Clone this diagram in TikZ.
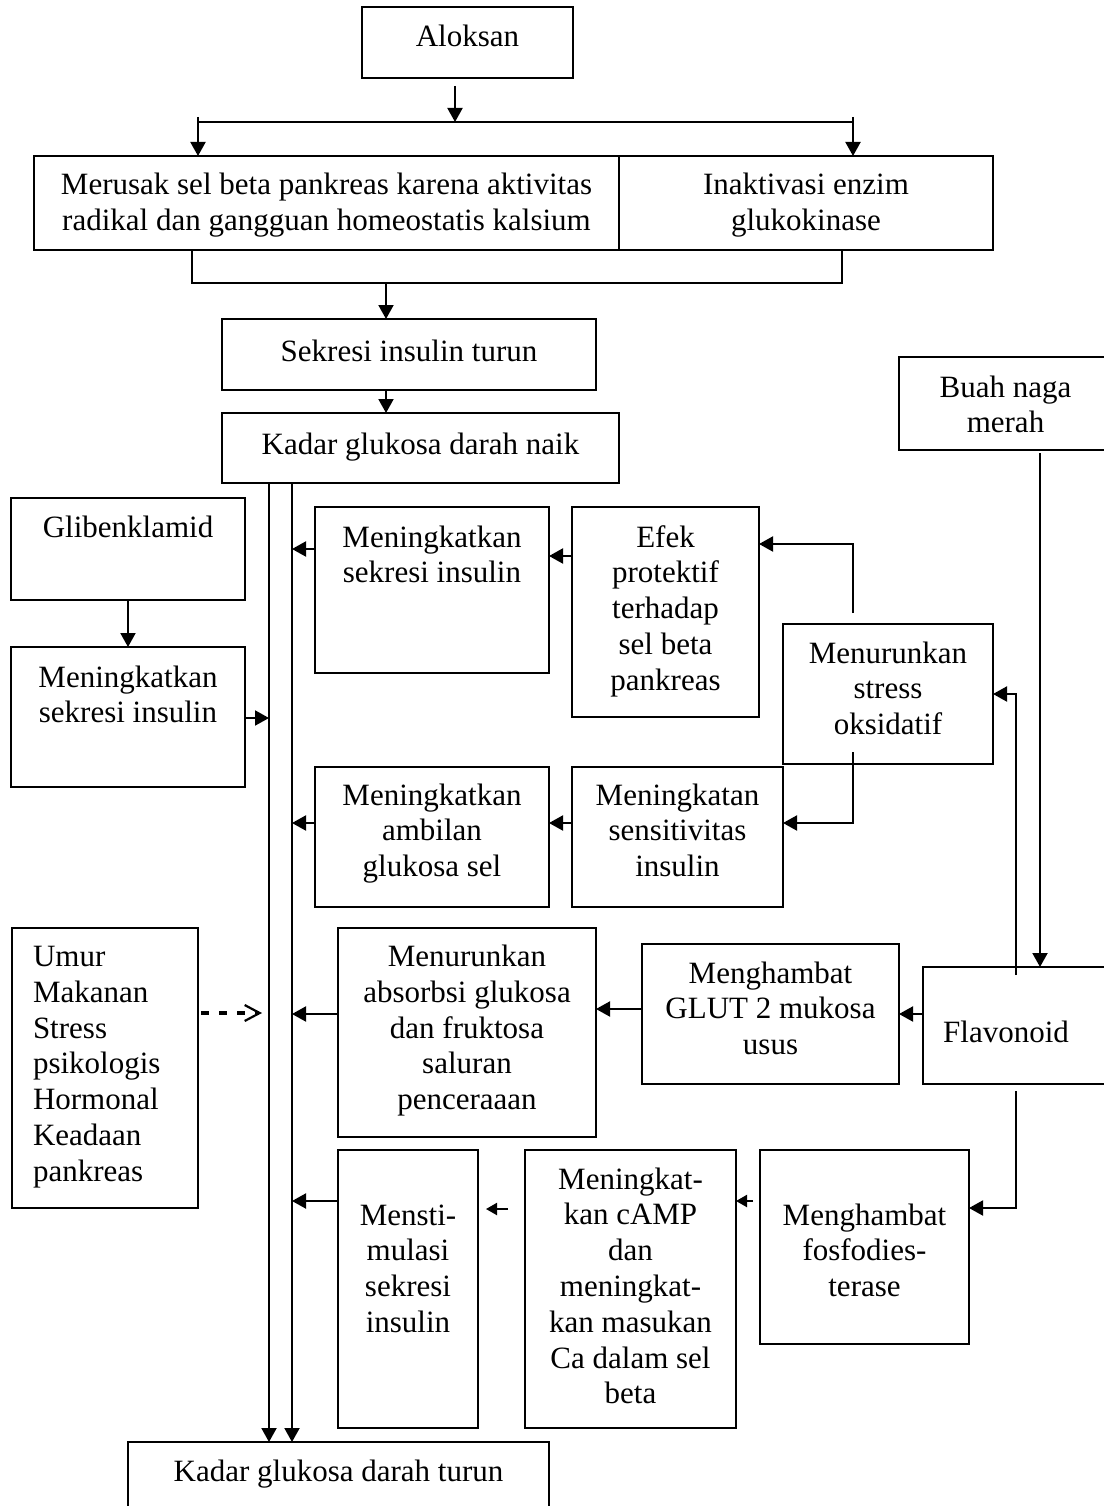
\documentclass[tikz,border=0pt]{standalone}
\usepackage{fontspec}
\setmainfont{Liberation Serif}
\usetikzlibrary{arrows.meta}
\tikzset{
  box/.style={draw, line width=2pt, inner sep=0pt, outer sep=0pt},
  txt/.style={anchor=north, inner sep=0pt, outer sep=0pt, align=center, font=\fontsize{31}{35.8}\selectfont},
  ln/.style={line width=2pt},
  arr/.style={line width=2pt, -{Triangle[length=14pt,width=15pt]}},
  sarr/.style={line width=2pt, -{Triangle[length=11pt,width=12pt]}},
  dasharr/.style={line width=4pt, dash pattern=on 7.5pt off 10.5pt, -{Straight Barb[length=15pt,width=16pt,line width=2.2pt]}},
}
% box: name, left, top, right, bottom (pixels, y downwards)
\newcommand\bx[5]{\node[box, minimum width={(#4-#2)*1pt}, minimum height={(#5-#3)*1pt}] (#1) at ({(#2+#4)/2},{(#3+#5)/2}) {};}
% text: name, centre x, first baseline y, text
\newcommand\tx[4]{\node[txt] (#1) at (#2,{#3-24}) {\rule{0pt}{24pt}#4};}
\begin{document}
\begin{tikzpicture}[x=1pt,y=-1pt]
\useasboundingbox (0,0) rectangle (1103,1506);
\fill[white] (0,0) rectangle (1103,1506);

% ---------- boxes ----------
\bx{alok}{362}{7}{573}{78}
\bx{merusak}{34}{156}{619}{250}
\bx{inak}{619}{156}{993}{250}
\bx{sekresi}{222}{319}{596}{390}
\bx{naik}{222}{413}{619}{483}
\bx{buah}{899}{357}{1112}{450}
\bx{gliben}{11}{498}{245}{600}
\bx{lmen}{11}{647}{245}{787}
\bx{msek}{315}{507}{549}{673}
\bx{efek}{572}{507}{759}{717}
\bx{stress}{783}{624}{993}{764}
\bx{amb}{315}{767}{549}{907}
\bx{sens}{572}{767}{783}{907}
\bx{umur}{12}{928}{198}{1208}
\bx{abs}{338}{928}{596}{1137}
\bx{glut}{642}{944}{899}{1084}
\bx{flav}{923}{967}{1112}{1084}
\bx{stim}{338}{1150}{478}{1428}
\bx{camp}{525}{1150}{736}{1428}
\bx{fosf}{760}{1150}{969}{1344}
\bx{turun}{128}{1442}{549}{1512}

% ---------- texts ----------
\tx{talok}{467.5}{47}{Aloksan}
\tx{tmerusak}{326.5}{195}{Merusak sel beta pankreas karena aktivitas\\radikal dan gangguan homeostatis kalsium}
\tx{tinak}{806}{195}{Inaktivasi enzim\\glukokinase}
\tx{tsekresi}{409}{361}{Sekresi insulin turun}
\tx{tnaik}{420.5}{454}{Kadar glukosa darah naik}
\tx{tbuah}{1005.5}{397}{Buah naga\\merah}
\tx{tgliben}{128}{537}{Glibenklamid}
\tx{tlmen}{128}{687}{Meningkatkan\\sekresi insulin}
\tx{tmsek}{432}{547}{Meningkatkan\\sekresi insulin}
\tx{tefek}{665.5}{547}{Efek\\protektif\\terhadap\\sel beta\\pankreas}
\tx{tstress}{888}{663}{Menurunkan\\stress\\oksidatif}
\tx{tamb}{432}{805}{Meningkatkan\\ambilan\\glukosa sel}
\tx{tsens}{677.5}{805}{Meningkatan\\sensitivitas\\insulin}
\node[txt, anchor=north west, align=left] (tumur) at (33,{966.5-24}) {\rule{0pt}{24pt}Umur\\Makanan\\Stress\\psikologis\\Hormonal\\Keadaan\\pankreas};
\tx{tabs}{467}{966.5}{Menurunkan\\absorbsi glukosa\\dan fruktosa\\saluran\\penceraaan}
\tx{tglut}{770.5}{983}{Menghambat\\GLUT 2 mukosa\\usus}
\tx{tflav}{1006}{1042}{Flavonoid}
\tx{tfosf}{864.5}{1225}{Menghambat\\fosfodies-\\terase}
\tx{tcamp}{630.5}{1189}{Meningkat-\\kan cAMP\\dan\\meningkat-\\kan masukan\\Ca dalam sel\\beta}
\tx{tstim}{408}{1225}{Mensti-\\mulasi\\sekresi\\insulin}
\tx{tturun}{338.5}{1481}{Kadar glukosa darah turun}

% ---------- connectors ----------
% Aloksan split
\coordinate (aS) at (455,86);
\coordinate (barL) at (198,122);
\coordinate (barR) at (853,122);
\draw[arr] (aS) -- (aS |- barL);
\draw[ln] (barL) -- (barR);
\draw[arr] (198,117) -- (barL |- merusak.north);
\draw[arr] (853,117) -- (barR |- inak.north);
% join to Sekresi
\coordinate (jL) at (192,283);
\coordinate (jR) at (842,283);
\coordinate (jM) at (386,283);
\draw[ln] (jL |- merusak.south) -- (jL) -- (jR) -- (jR |- inak.south);
\draw[arr] (jM) -- (jM |- sekresi.north);
\draw[arr] (jM |- sekresi.south) -- (jM |- naik.north);
% two main vertical lines
\coordinate (L1) at (269,0);
\coordinate (L2) at (292,0);
\draw[arr] (L1 |- naik.south) -- (L1 |- turun.north);
\draw[arr] (L2 |- naik.south) -- (L2 |- turun.north);
% Glibenklamid branch
\draw[arr] (gliben.south) -- (lmen.north);
\draw[arr] (lmen.east |- 0,718) -- (L1 |- 0,718);
% right side into L2
\draw[arr] (msek.west |- 0,549) -- (L2 |- 0,549);
\draw[arr] (amb.west |- 0,823) -- (L2 |- 0,823);
\draw[arr] (abs.west |- 0,1014) -- (L2 |- 0,1014);
\draw[arr] (stim.west |- 0,1201) -- (L2 |- 0,1201);
% Efek / stress
\draw[arr] (efek.west |- 0,556) -- (msek.east |- 0,556);
\coordinate (sN) at (853,613);
\draw[arr] (sN) -- (sN |- 0,544) -- (efek.east |- 0,544);
\coordinate (sS) at (853,752);
\draw[arr] (sS) -- (sS |- 0,823) -- (sens.east |- 0,823);
\draw[arr] (sens.west |- 0,823) -- (amb.east |- 0,823);
% Buah naga -> Flavonoid
\coordinate (bS) at (1040,453);
\draw[arr] (bS) -- (bS |- flav.north);
% Flavonoid -> stress
\coordinate (fN) at (1016,975);
\draw[arr] (fN) -- (fN |- 0,694) -- (stress.east |- 0,694);
% Flavonoid -> GLUT -> absorbsi
\draw[arr] (flav.west |- 0,1014) -- (glut.east |- 0,1014);
\draw[arr] (glut.west |- 0,1009) -- (abs.east |- 0,1009);
% Flavonoid -> fosfodiesterase
\coordinate (fS) at (1016,1091);
\draw[arr] (fS) -- (fS |- 0,1208) -- (fosf.east |- 0,1208);
% fosfodiesterase -> cAMP -> stimulasi
\coordinate (c1) at (753,1201);
\draw[sarr] (c1) -- (camp.east |- c1);
\coordinate (c2) at (508,1209);
\coordinate (c3) at (486,1209);
\draw[sarr] (c2) -- (c3);
% Umur dashed arrow
\coordinate (dS) at (201,1013);
\coordinate (dE) at (262,1013);
\draw[dasharr] (dS) -- (dE);
\end{tikzpicture}
\end{document}
